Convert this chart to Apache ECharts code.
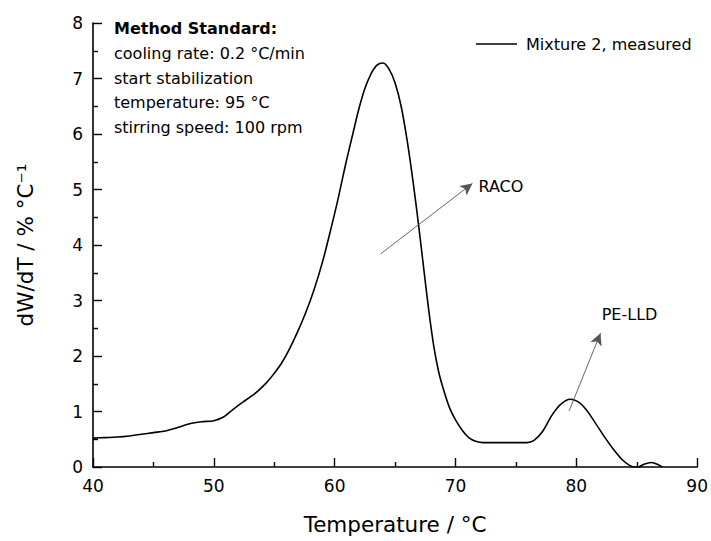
<!DOCTYPE html>
<html>
<head>
<meta charset="utf-8">
<script src="https://cdn.jsdelivr.net/npm/echarts@6/dist/echarts.min.js"></script>
<style>
  html, body { margin: 0; padding: 0; background: #fff; }
  #chart { width: 711px; height: 541px; }
</style>
</head>
<body>
<div id="chart"></div>
<script>
// Crystallization distribution curve: temperature (°C) vs dW/dT (% °C^-1)
var temperature = [40, 41, 42, 43, 44, 45, 46, 47, 48, 49, 50, 50.8, 51.6, 52.4, 53.2, 53.8, 54.4, 54.9, 55.6, 56.2,
  56.9, 57.6, 58.3, 59, 59.7, 60.3, 60.9, 61.5, 62, 62.5, 63, 63.5, 64, 64.5, 65, 65.5, 66, 66.5,
  67, 67.4, 67.8, 68.2, 68.6, 69, 69.5, 70, 70.6, 71.1, 71.6, 72.3, 74, 75.9, 76.5, 77.2, 78, 78.7,
  79.5, 80.3, 81, 81.7, 82.4, 83.1, 83.8, 84.4, 84.9, 85.1, 85.6, 86.2, 86.7, 87.1];
var dWdT = [0.52, 0.53, 0.54, 0.56, 0.59, 0.62, 0.65, 0.71, 0.78, 0.815, 0.835, 0.90, 1.04, 1.17, 1.29, 1.40, 1.53, 1.66, 1.87, 2.10,
  2.42, 2.78, 3.20, 3.70, 4.30, 4.85, 5.45, 6.00, 6.45, 6.82, 7.08, 7.24, 7.28, 7.17, 6.92, 6.50, 5.88, 5.12,
  4.26, 3.52, 2.80, 2.18, 1.72, 1.40, 1.07, 0.85, 0.65, 0.53, 0.47, 0.44, 0.44, 0.44, 0.48, 0.64, 0.94, 1.13,
  1.22, 1.15, 0.98, 0.75, 0.52, 0.31, 0.13, 0.03, 0.00, 0.00, 0.05, 0.08, 0.05, 0.00];

var xTicks = { min: 40, max: 90, step: 10 };
var yTicks = { min: 0, max: 8, step: 1 };

var seriesName = 'Mixture 2, measured';
var methodTitle = 'Method Standard:';
var methodLines = ['cooling rate: 0.2 °C/min', 'start stabilization', 'temperature: 95 °C', 'stirring speed: 100 rpm'];

// Peak annotations: arrow start, arrow end, label anchor (data coordinates)
var racoArrow = [[63.8, 3.84], [71.4, 5.11]];
var racoLabel = { text: 'RACO', at: [71.9, 5.06] };
var peArrow = [[79.4, 1.01], [82.0, 2.41]];
var peLabel = { text: 'PE-LLD', at: [82.1, 2.74] };

var FONT = 'DejaVu Sans';
var points = temperature.map(function (t, i) { return [t, dWdT[i]]; });

var chart = echarts.init(document.getElementById('chart'), null, { renderer: 'svg' });

var axisCommon = {
  axisLine: { show: true, lineStyle: { color: '#000', width: 1.6 } },
  axisTick: { show: true, inside: true, length: 9, lineStyle: { color: '#000', width: 1.4 } },
  minorTick: { show: true, splitNumber: 2, length: 5, lineStyle: { color: '#000', width: 1.4 } },
  splitLine: { show: false },
  axisLabel: { color: '#000', fontFamily: FONT, fontSize: 17, margin: 10 }
};

function textLine(str, top, bold) {
  return {
    type: 'text', left: 114, top: top,
    style: { text: str, fill: '#000', font: (bold ? 'bold ' : '') + '16px "' + FONT + '"' }
  };
}

var graphics = [textLine(methodTitle, 20, true)];
methodLines.forEach(function (s, i) { graphics.push(textLine(s, 45.5 + i * 24.5, false)); });

chart.setOption({
  animation: false,
  backgroundColor: '#fff',
  grid: { left: 93, right: 13, top: 23, bottom: 74, containLabel: false },
  legend: {
    data: [{ name: seriesName, icon: 'rect' }],
    left: 471, top: 31,
    itemWidth: 41, itemHeight: 1.6,
    itemStyle: { color: '#000' },
    textStyle: { color: '#000', fontFamily: FONT, fontSize: 16, padding: [0, 0, 0, 4] }
  },
  xAxis: Object.assign({}, axisCommon, {
    type: 'value', min: xTicks.min, max: xTicks.max, interval: xTicks.step,
    name: 'Temperature / °C', nameLocation: 'middle', nameGap: 46,
    nameTextStyle: { color: '#000', fontFamily: FONT, fontSize: 21.5 }
  }),
  yAxis: Object.assign({}, axisCommon, {
    type: 'value', min: yTicks.min, max: yTicks.max, interval: yTicks.step,
    name: 'dW/dT / % °C⁻¹', nameLocation: 'middle', nameGap: 57, nameRotate: 90,
    nameTextStyle: { color: '#000', fontFamily: FONT, fontSize: 21.5 }
  }),
  graphic: graphics,
  series: [{
    name: seriesName,
    type: 'line',
    data: points,
    smooth: 0.3,
    symbol: 'none',
    lineStyle: { color: '#000', width: 1.6 },
    itemStyle: { color: '#000' },
    markLine: {
      silent: true,
      symbol: ['none', 'arrow'],
      symbolSize: [9, 12],
      label: { show: false },
      lineStyle: { color: '#555', width: 0.9, type: 'solid' },
      data: [
        [{ coord: racoArrow[0] }, { coord: racoArrow[1] }],
        [{ coord: peArrow[0] }, { coord: peArrow[1] }]
      ]
    },
    markPoint: {
      silent: true,
      symbol: 'circle', symbolSize: 0,
      label: {
        show: true, position: 'inside', align: 'left', verticalAlign: 'middle',
        color: '#000', fontFamily: FONT, fontSize: 16
      },
      data: [
        { coord: racoLabel.at, value: racoLabel.text, label: { formatter: racoLabel.text } },
        { coord: peLabel.at, value: peLabel.text, label: { formatter: peLabel.text } }
      ]
    }
  }]
});
</script>
</body>
</html>
